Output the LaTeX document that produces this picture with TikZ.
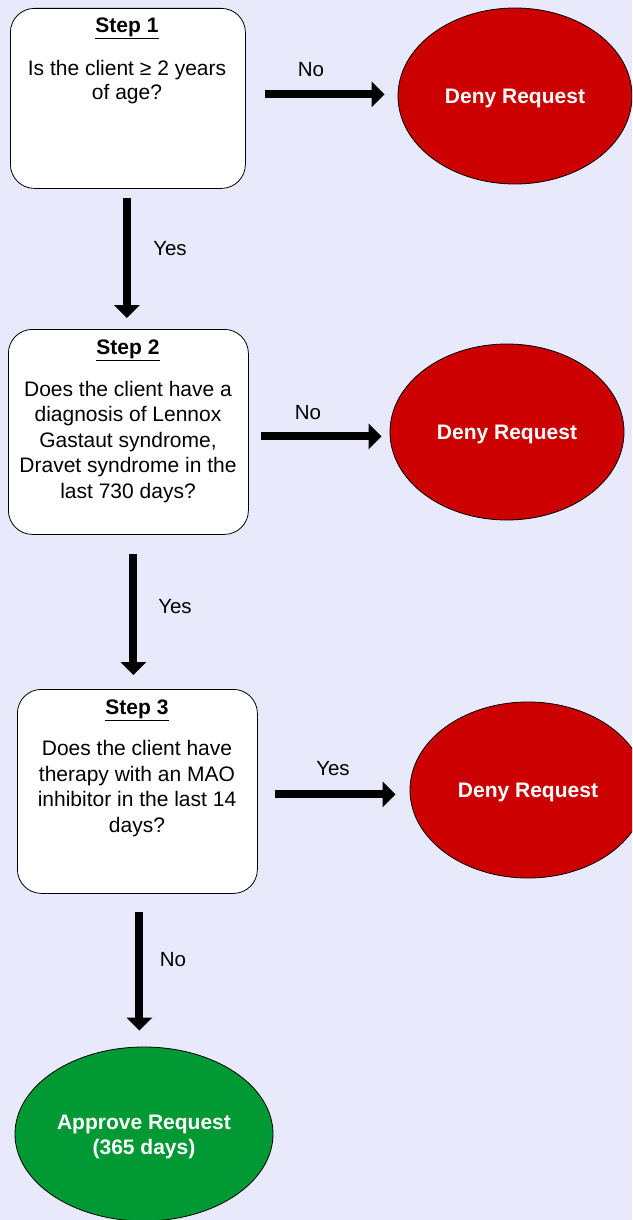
\documentclass[tikz,border=0pt]{standalone}
\usepackage{fontspec}
\setmainfont{Liberation Sans}
\usetikzlibrary{shapes.geometric,arrows.meta}
\definecolor{bgc}{RGB}{232,234,252}
\definecolor{denyred}{RGB}{204,0,0}
\definecolor{okgreen}{RGB}{0,153,51}
\begin{document}
\begin{tikzpicture}[x=1pt,y=-1pt,
  stepbox/.style={draw=black,line width=0.8pt,fill=white,rounded corners=24pt,inner sep=0,anchor=north west},
  txt/.style={font=\fontsize{21}{24.5}\selectfont,align=center,inner sep=0},
  lbl/.style={font=\fontsize{20.5}{24.5}\selectfont,inner sep=0},
  endnode/.style={ellipse,draw=black,line width=0.8pt,inner sep=0,text=white,align=center,font=\fontsize{21}{26}\selectfont\bfseries},
  deny/.style={endnode,fill=denyred,minimum width=234pt,minimum height=176pt},
  arr/.style={line width=8pt,-{Triangle[length=13pt,width=25pt]}}
]
\useasboundingbox (0,0) rectangle (632,1220);
\clip (0,0) rectangle (632,1220);
\fill[bgc] (0,0) rectangle (632,1220);

% boxes
\node[stepbox,minimum width=235pt,minimum height=180pt] (b1) at (10,8) {};
\node[stepbox,minimum width=240pt,minimum height=205pt] (b2) at (8,329) {};
\node[stepbox,minimum width=240pt,minimum height=204pt] (b3) at (17,689) {};

\node[txt] (s1) at (127,28.5) {\textbf{\underline{Step 1}}};
\node[txt] (q1) at (127,82) {Is the client ≥ 2 years\\of age?};

\node[txt] (s2) at (128,350.5) {\textbf{\underline{Step 2}}};
\node[txt,font=\fontsize{21}{25.5}\selectfont] (q2) at (128,442) {Does the client have a\\diagnosis of Lennox\\Gastaut syndrome,\\Dravet syndrome in the\\last 730 days?};

\node[txt] (s3) at (137,710.5) {\textbf{\underline{Step 3}}};
\node[txt,font=\fontsize{21}{25.5}\selectfont] (q3) at (137,788.5) {Does the client have\\therapy with an MAO\\inhibitor in the last 14\\days?};

% outcomes
\node[deny] (e1) at (515,96) {\raisebox{-2pt}[\height][\depth]{Deny Request}};
\node[deny] (e2) at (507,432) {\raisebox{-2pt}[\height][\depth]{Deny Request}};
\node[deny,minimum width=236pt] (e3) at (528,790) {\raisebox{-2pt}[\height][\depth]{Deny Request}};
\node[endnode,fill=okgreen,minimum width=258pt,minimum height=174pt] (e4) at (144,1134) {\raisebox{-3pt}[\height][\depth]{\shortstack{Approve Request\\[3pt](365 days)}}};

% arrows
\draw[arr,shorten <=19pt,shorten >=13pt] ([yshift=4pt]b1.east) -- ([yshift=4pt]b1.east -| e1.west);
\draw[arr,shorten <=12pt,shorten >=8pt] ([yshift=-4.5pt]b2.east) -- ([yshift=-4.5pt]b2.east -| e2.west);
\draw[arr,shorten <=17pt,shorten >=14pt] ([yshift=-3pt]b3.east) -- ([yshift=-3pt]b3.east -| e3.west);

\draw[arr,shorten <=9pt,shorten >=11pt] ([xshift=-1pt]b1.south) -- ([xshift=-1pt]b1.south |- b2.north);
\draw[arr,shorten <=19pt,shorten >=14pt] ([xshift=5pt]b2.south) -- ([xshift=5pt]b2.south |- b3.north);
\draw[arr,shorten <=18pt,shorten >=16pt] ([xshift=2pt]b3.south) -- ([xshift=2pt]b3.south |- e4.north);

% labels
\node[lbl] (l1) at (311,70) {No};
\node[lbl] (l2) at (170,249) {Yes};
\node[lbl] (l3) at (308,413) {No};
\node[lbl] (l4) at (175,607) {Yes};
\node[lbl] (l5) at (333,769) {Yes};
\node[lbl] (l6) at (173,960) {No};
\end{tikzpicture}
\end{document}
